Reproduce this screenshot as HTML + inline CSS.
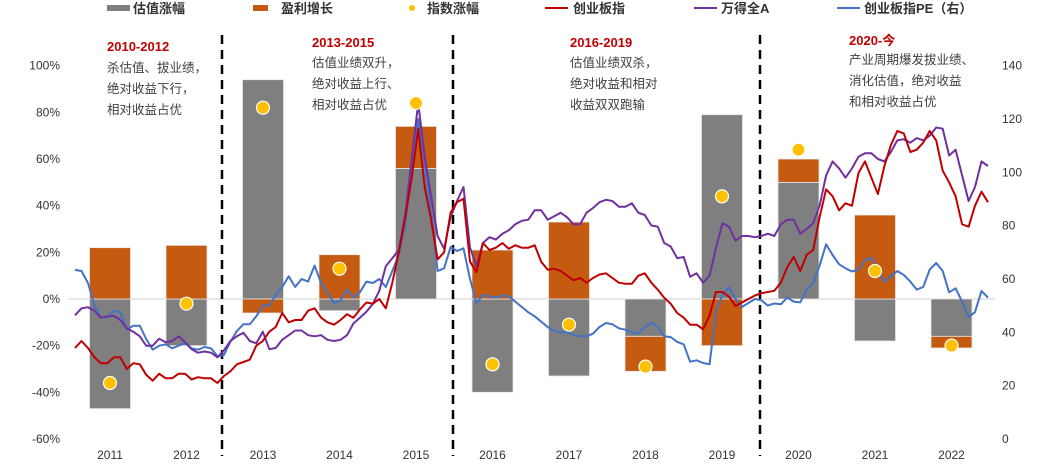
<!DOCTYPE html>
<html><head><meta charset="utf-8">
<style>
body{margin:0;background:#fff;}
svg{display:block;font-family:"Liberation Sans","Noto Sans CJK SC",sans-serif;}
</style></head>
<body>
<svg id="chart" width="1055" height="465" viewBox="0 0 1055 465" xmlns="http://www.w3.org/2000/svg">
<g id="axes"></g>
<g id="bars"></g>
<g id="lines"></g>
<g id="dots"></g>
<g id="annot"></g>
<g id="legend"></g>
</svg>
<script>
const years = ['2011','2012','2013','2014','2015','2016','2017','2018','2019','2020','2021','2022'];
const valuationChange = [-47,-20,94,-5,56,-40,-33,-16,79,50,-18,-16];
const earningsGrowth = [22,23,-6,19,18,21,33,-15,-20,10,36,-5];
const indexChange = [-36,-2,82,13,84,-28,-11,-29,44,64,12,-20];
const leftTicks = [100,80,60,40,20,0,-20,-40,-60];
const rightTicks = [140,120,100,80,60,40,20,0];
const chinext = [-21,-18,-21,-25,-27.5,-27.5,-25,-25,-30,-27.5,-28,-32.5,-35,-32,-34,-34,-32,-32,-34.5,-33.5,-34,-34,-36,-33,-31,-28,-27,-26,-20,-18,-14,-12,-6,-10,-9,-9,-5,-4,-8,-10,-11,-9,-6.5,-8,-4.5,-1.5,-2,0,-4,7,20,35,52,73,48,34,17,20,37,41.5,43,16,11.5,24,21,22,24,21.5,23,22,22,23,16,12.5,13,12,10,8,9,7,9,10.5,11,9,7,6.5,6.5,10,11,7,4,0.5,-2,-6,-8,-11,-11,-13,-7,3,3,1,-3,-1.5,0,1.5,2.5,3,3.5,7,13.7,18,12,19,21,35,47,44,38,41,40,54,59,52,45,57,66,72,71,63,64,67,72,68,55,50,44,32,31,40,46,41.5];
const windA = [-7,-4,-3.5,-5,-8,-7.5,-7.3,-9,-12.5,-14,-16,-20,-20,-17,-18.5,-18,-16,-18.5,-21.5,-23,-22.5,-23,-25,-22,-18,-16,-14.5,-18,-19,-14,-21.5,-21,-17.5,-15.5,-13.5,-13.5,-15.5,-16,-15.5,-17.5,-18,-17.5,-15.5,-10.5,-8,-5.5,-2,3.5,14,17.5,21,36,60,84,61,44,27,21.5,35,42,48,22,14,24,26.5,25.5,28,29.5,32,33.5,34,38,38,34,35.5,37,35,32,32,37,39,41.5,42.5,42,39.5,39.5,41,37,36,31.5,31,24,22.5,17.5,18,9.5,11,7,10,22,32.5,31,25,27,27,26.5,27,28,27,32,34,34,28,30,32.5,40,53,59,56,52,56,61,62.5,62.5,60,59,63,68,68.5,67,69,68,70,73.5,73,61.5,64,53,42,48,59,57];
const chinextPE = [63.4,63,58.5,50,45.6,45.6,48,47.5,41,42.5,42.5,37.5,33.5,35,35.5,34,35,36,34,33.5,34.5,34,31,31.5,36.5,40.5,43,43,46,50,50,54,57,61,57,60,59,65,58.5,55,51,52,56,53,55,59,58.5,60,57,63,69,80,100,120,103,85,63,64,72,70.5,71.5,60,51,54,53.5,53,53.8,53.5,51.5,49.5,47.5,46,44,42,40.5,40,40,39,38.5,38.5,39.5,42,43.5,43,41.5,41,40,39.5,42,43.5,42,38.5,38.2,36.4,35.5,29,29.5,28.5,28,48,54,57,52.5,49.5,51,52.5,52,50,50.8,50.5,53,51.5,51.2,56,58.5,65,73,69,65.5,64,62.8,63.5,67,68,63,59,61,63,61.5,59,56,57,63.5,66,63,55,56.5,51.5,45.7,47.6,55.5,53];

const NS='http://www.w3.org/2000/svg';
function mk(tag, attrs, parent, text){const e=document.createElementNS(NS,tag);for(const k in attrs)e.setAttribute(k,attrs[k]);if(text!==undefined)e.textContent=text;parent.appendChild(e);return e;}
const yL = v => 299 - v*2.333;
const yR = v => 439 - v*2.667;
const xYear = i => 110 + i*76.5;
const xMonth = i => 75 + i*(913/(chinext.length-1));

const axes=document.getElementById('axes');
leftTicks.forEach(t=>{const e=mk('text',{x:60,y:yL(t)+4,'text-anchor':'end','font-size':12,fill:'#333'},axes,t+'%');

});
rightTicks.forEach(t=>{const e=mk('text',{x:1002,y:yR(t)+4,'text-anchor':'start','font-size':12,fill:'#333'},axes,String(t));

});
years.forEach((y,i)=>{const e=mk('text',{x:xYear(i),y:459,'text-anchor':'middle','font-size':12,fill:'#333'},axes,y);

});
const zl=mk('line',{x1:68,x2:995,y1:yL(0),y2:yL(0),stroke:'#d9d9d9','stroke-width':1.2},axes);



const bars=document.getElementById('bars');
years.forEach((y,i)=>{
  const bw=41, x=xYear(i)-bw/2;
  const v=valuationChange[i], e=earningsGrowth[i];
  const g=mk('rect',{x:x,y:Math.min(yL(0),yL(v)),width:bw,height:Math.abs(yL(v)-yL(0)),fill:'#7f7f7f',stroke:'#e8e8e8','stroke-width':0.8},bars);
  
  
  let base = (Math.sign(e)===Math.sign(v)) ? v : 0;
  const o=mk('rect',{x:x,y:Math.min(yL(base),yL(base+e)),width:bw,height:Math.abs(yL(base+e)-yL(base)),fill:'#c55a11',stroke:'#e8e8e8','stroke-width':0.8},bars);
  
  
});

[222,453,760].forEach(x=>{const d=mk('line',{x1:x,x2:x,y1:35,y2:456,stroke:'#000','stroke-width':2.5,'stroke-dasharray':'9 6'},axes);

});

const lines=document.getElementById('lines');
function path(arr,fy,color,name){
  const d=arr.map((v,i)=>(i?'L':'M')+xMonth(i).toFixed(1)+' '+fy(v).toFixed(1)).join(' ');
  const p=mk('path',{d:d,fill:'none',stroke:color,'stroke-width':2,'stroke-linejoin':'round'},lines);
  
  
}
path(chinextPE,yR,'#4472c4','line-chinext-pe');
path(windA,yL,'#7030a0','line-wind-all-a');
path(chinext,yL,'#c00000','line-chinext');

const dots=document.getElementById('dots');
indexChange.forEach((v,i)=>{const c=mk('circle',{cx:xYear(i),cy:yL(v),r:6.5,fill:'#ffc000',stroke:'#fff','stroke-width':1.2},dots);

});
</script>
<script>
(function(){
const NS='http://www.w3.org/2000/svg';
const an=document.getElementById('annot');
const blocks=[
 {x:107,ty:51,title:'2010-2012',lines:['杀估值、拔业绩，','绝对收益下行，','相对收益占优'],y0:72},
 {x:312,ty:47,title:'2013-2015',lines:['估值业绩双升，','绝对收益上行、','相对收益占优'],y0:67},
 {x:570,ty:47,title:'2016-2019',lines:['估值业绩双杀，','绝对收益和相对','收益双双跑输'],y0:67},
 {x:849,ty:45,title:'2020-今',lines:['产业周期爆发拔业绩、','消化估值，绝对收益','和相对收益占优'],y0:64}
];
blocks.forEach((b,k)=>{
  const t=document.createElementNS(NS,'text');
  t.setAttribute('x',b.x);t.setAttribute('y',b.ty);t.setAttribute('font-size',13);t.setAttribute('font-weight','bold');t.setAttribute('fill','#c00000');
  t.textContent=b.title;
  
  
  an.appendChild(t);
  b.lines.forEach((l,j)=>{
    const s=document.createElementNS(NS,'text');
    s.setAttribute('x',b.x);s.setAttribute('y',b.y0+j*21);s.setAttribute('font-size',12.5);s.setAttribute('fill','#404040');
    s.textContent=l;
    
    
    an.appendChild(s);
  });
});
})();
</script>
<script>
(function(){
const NS='http://www.w3.org/2000/svg';
const lg=document.getElementById('legend');
function add(tag,attrs,text){const e=document.createElementNS(NS,tag);for(const k in attrs)e.setAttribute(k,attrs[k]);if(text)e.textContent=text;lg.appendChild(e);return e;}
let e;
e=add('rect',{x:107,y:5,width:23,height:6,fill:'#7f7f7f'});


e=add('text',{x:133,y:13,'font-size':13,'font-weight':'bold',fill:'#333'},'估值涨幅');


e=add('rect',{x:253,y:5,width:15,height:6,fill:'#c55a11'});


e=add('text',{x:281,y:13,'font-size':13,'font-weight':'bold',fill:'#333'},'盈利增长');


e=add('circle',{cx:412,cy:8,r:3,fill:'#ffc000'});


e=add('text',{x:427,y:13,'font-size':13,'font-weight':'bold',fill:'#333'},'指数涨幅');


e=add('line',{x1:545,x2:568,y1:8,y2:8,stroke:'#c00000','stroke-width':2});


e=add('text',{x:573,y:13,'font-size':13,'font-weight':'bold',fill:'#333'},'创业板指');


e=add('line',{x1:694,x2:717,y1:8,y2:8,stroke:'#7030a0','stroke-width':2});


e=add('text',{x:721,y:13,'font-size':13,'font-weight':'bold',fill:'#333'},'万得全A');


e=add('line',{x1:837,x2:860,y1:8,y2:8,stroke:'#4472c4','stroke-width':2});


e=add('text',{x:864,y:13,'font-size':13,'font-weight':'bold',fill:'#333'},'创业板指PE（右）');


})();
</script>
</body></html>
